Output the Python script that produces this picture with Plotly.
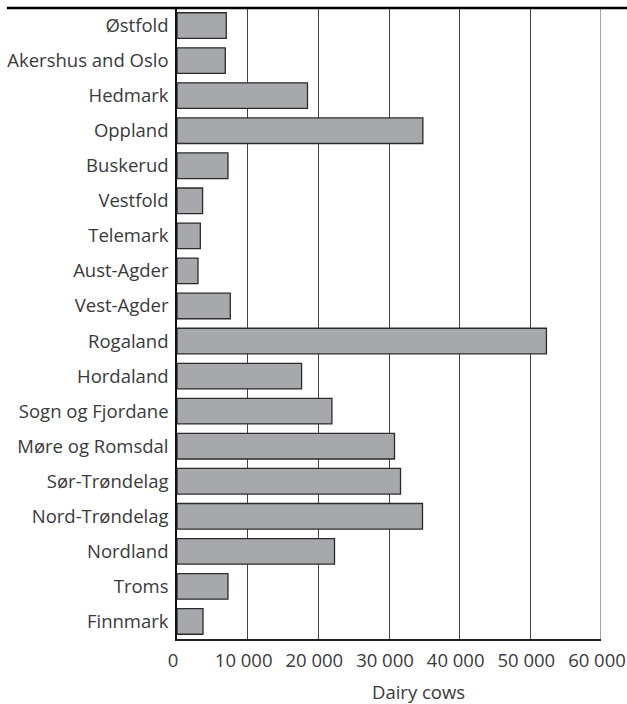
import plotly.graph_objects as go

regions = ["Østfold", "Akershus and Oslo", "Hedmark", "Oppland", "Buskerud",
           "Vestfold", "Telemark", "Aust-Agder", "Vest-Agder", "Rogaland",
           "Hordaland", "Sogn og Fjordane", "Møre og Romsdal", "Sør-Trøndelag",
           "Nord-Trøndelag", "Nordland", "Troms", "Finnmark"]
dairy_cows = [6970, 6830, 18470, 34790, 7210, 3620, 3300, 2970, 7540, 52280,
              17630, 21920, 30780, 31630, 34740, 22290, 7210, 3680]
tick_vals = [0, 10000, 20000, 30000, 40000, 50000, 60000]
tick_text = ["0", "10 000", "20 000", "30 000", "40 000", "50 000", "60 000"]
x_title = "Dairy cows"

FONT = "Open Sans"
W, H = 627, 704
ML, MR, MT, MB = 177, 26, 8, 65
pw = W - ML - MR
ph = H - MT - MB

fig = go.Figure(go.Bar(
    x=dairy_cows, y=regions, orientation="h",
    marker=dict(color="#a7a8ab", line=dict(color="#2b2b2b", width=1.3)),
))

fig.update_layout(
    width=W, height=H,
    margin=dict(l=ML, r=MR, t=MT, b=MB, pad=0, autoexpand=False),
    paper_bgcolor="white", plot_bgcolor="white",
    bargap=0.27, showlegend=False,
    font=dict(family=FONT, size=18.5, color="#3a3a3a"),
)
fig.update_xaxes(
    range=[0, 60000], tickvals=tick_vals, ticktext=tick_text,
    showgrid=True, gridcolor="#444444", gridwidth=1,
    showline=True, linecolor="#222222", linewidth=1.5,
    zeroline=False, ticks="", ticklabelstandoff=4, ticklabelshift=-4,
    ticklabeloverflow="allow", automargin=False,
    tickfont=dict(family=FONT, size=18.5, color="#3a3a3a"),
)
fig.update_yaxes(
    autorange="reversed", showgrid=False,
    showline=True, linecolor="#111111", linewidth=1.5,
    ticks="", ticklabelstandoff=3, automargin=False,
    tickfont=dict(family=FONT, size=18.5, color="#3a3a3a"),
)

# right edge gridline at the last tick
fig.add_shape(type="line", xref="x", yref="paper",
              x0=tick_vals[-1], x1=tick_vals[-1], y0=0, y1=1,
              line=dict(color="#444444", width=1))

# heavy top rule
fig.add_shape(type="line", xref="paper", yref="paper",
              x0=(7 - ML) / pw, x1=(W - ML) / pw, y0=1.0, y1=1.0,
              line=dict(color="black", width=2.5))

fig.add_annotation(text=x_title, xref="paper", yref="paper",
                   x=(418 - ML) / pw, y=(MT + ph - 691) / ph,
                   xanchor="center", yanchor="middle", showarrow=False,
                   font=dict(family=FONT, size=18.5, color="#3a3a3a"))

fig.write_html("out.html", config={"displayModeBar": False},
               post_script="document.body.style.margin='0';document.body.style.overflow='hidden';")
